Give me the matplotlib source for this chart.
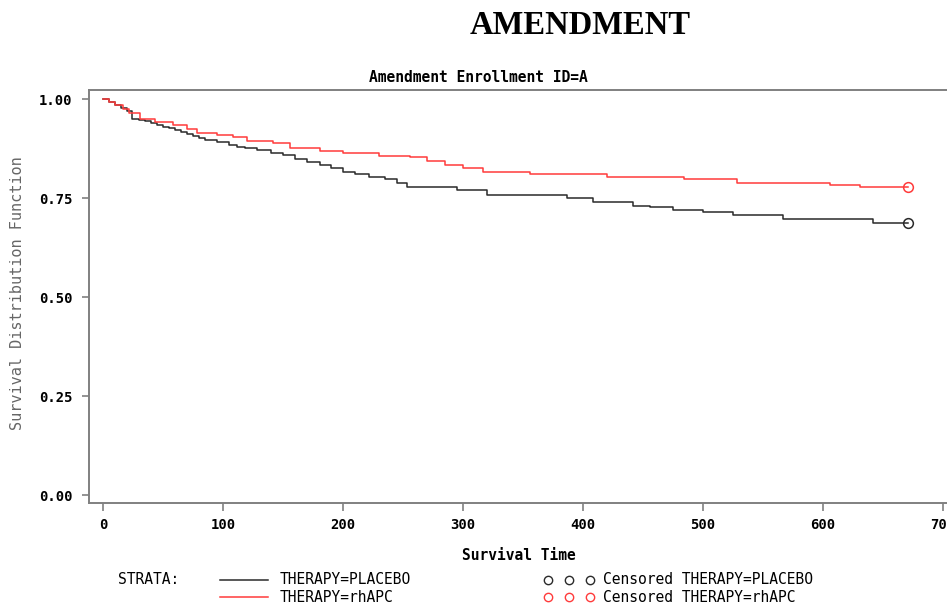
import matplotlib.pyplot as plt
from matplotlib.lines import Line2D

# Kaplan-Meier step points (time, survival)
placebo_t = [0, 5, 10, 15, 20, 24, 30, 35, 40, 45, 50, 55, 60, 65, 70, 75, 80,
             85, 95, 105, 112, 118, 128, 140, 150, 160, 170, 181, 190, 200,
             210, 222, 235, 245, 253, 295, 320, 387, 408, 442, 456, 475, 500,
             525, 567, 642]
placebo_s = [1.000, 0.993, 0.985, 0.978, 0.970, 0.951, 0.948, 0.945, 0.940,
             0.935, 0.931, 0.927, 0.922, 0.918, 0.913, 0.908, 0.903, 0.898,
             0.892, 0.885, 0.881, 0.878, 0.872, 0.866, 0.860, 0.850, 0.843,
             0.834, 0.826, 0.817, 0.812, 0.805, 0.800, 0.790, 0.779, 0.771,
             0.758, 0.751, 0.741, 0.731, 0.728, 0.720, 0.716, 0.708, 0.698,
             0.688]

rhapc_t = [0, 5, 10, 17, 22, 31, 43, 58, 70, 78, 95, 108, 120, 142, 156, 181,
           200, 230, 256, 270, 285, 300, 317, 356, 420, 484, 528, 606, 631]
rhapc_s = [1.000, 0.993, 0.986, 0.975, 0.965, 0.951, 0.943, 0.935, 0.925,
           0.915, 0.910, 0.905, 0.895, 0.890, 0.877, 0.870, 0.864, 0.858,
           0.855, 0.845, 0.835, 0.827, 0.817, 0.812, 0.805, 0.798, 0.790,
           0.784, 0.779]

last_followup = 671  # censored at end for both groups

x_ticks = [0, 100, 200, 300, 400, 500, 600, 700]
y_ticks = [0.00, 0.25, 0.50, 0.75, 1.00]

RED = '#ff3b3b'
DARK = '#2a2a2a'
MONO = 'DejaVu Sans Mono'


def main():
    W, H = 947, 607
    fig = plt.figure(figsize=(W / 100, H / 100), dpi=100)

    ax = fig.add_axes([89 / W, 1 - 503 / H, 866 / W, 413 / H])
    ax.set_xlim(-11.7, 710)
    ax.set_ylim(-0.02, 1.024)

    ax.step(placebo_t + [last_followup], placebo_s + [placebo_s[-1]],
            where='post', color=DARK, lw=1.1)
    ax.step(rhapc_t + [last_followup], rhapc_s + [rhapc_s[-1]],
            where='post', color=RED, lw=1.1)
    ax.plot([last_followup], [placebo_s[-1]], 'o', ms=7, mfc='none',
            mec=DARK, mew=1.1)
    ax.plot([last_followup], [rhapc_s[-1]], 'o', ms=7, mfc='none',
            mec=RED, mew=1.1)

    for s in ax.spines.values():
        s.set_color('#808080')
        s.set_linewidth(1.4)

    ax.set_xticks(x_ticks)
    ax.set_yticks(y_ticks)
    ax.set_xticklabels([str(v) for v in x_ticks])
    ax.set_yticklabels([f'{v:.2f}' for v in y_ticks])
    ax.tick_params(axis='both', direction='out', color='#808080', width=1.2,
                   labelsize=10, labelcolor='black')
    ax.tick_params(axis='x', length=6, pad=5)
    ax.tick_params(axis='y', length=5, pad=7)
    for lab in ax.get_xticklabels() + ax.get_yticklabels():
        lab.set_family(MONO)
        lab.set_fontweight('bold')

    # titles
    fig.text(580 / W, 1 - 25 / H, 'AMENDMENT', ha='center', va='center',
             family='Liberation Serif', fontweight='bold', fontsize=23.5)
    fig.text(478 / W, 1 - 78 / H, 'Amendment Enrollment ID=A', ha='center',
             va='center', family=MONO, fontsize=10.5, fontweight='bold')

    # axis labels
    fig.text(519 / W, 1 - 555 / H, 'Survival Time', ha='center', va='center',
             family=MONO, fontsize=10.5, fontweight='bold')
    fig.text(18 / W, 1 - 293 / H, 'Survival Distribution Function',
             ha='center', va='center', rotation=90, family=MONO,
             fontsize=11, color='#666666')

    # legend
    y1, y2 = 1 - 580 / H, 1 - 597 / H
    fig.text(118 / W, y1, 'STRATA:', ha='left', va='center', family=MONO,
             fontsize=10.5)
    fig.add_artist(Line2D([220 / W, 268 / W], [y1, y1], color=DARK, lw=1.1))
    fig.add_artist(Line2D([220 / W, 268 / W], [y2, y2], color=RED, lw=1.1))
    fig.text(280 / W, y1, 'THERAPY=PLACEBO', ha='left', va='center',
             family=MONO, fontsize=10.5)
    fig.text(280 / W, y2, 'THERAPY=rhAPC', ha='left', va='center',
             family=MONO, fontsize=10.5)

    cx = [548 / W, 569 / W, 590 / W]
    fig.add_artist(Line2D(cx, [y1] * 3, ls='none', marker='o', ms=6,
                          mfc='none', mec=DARK, mew=1.0))
    fig.add_artist(Line2D(cx, [y2] * 3, ls='none', marker='o', ms=6,
                          mfc='none', mec=RED, mew=1.0))
    fig.text(603 / W, y1, 'Censored THERAPY=PLACEBO', ha='left', va='center',
             family=MONO, fontsize=10.5)
    fig.text(603 / W, y2, 'Censored THERAPY=rhAPC', ha='left', va='center',
             family=MONO, fontsize=10.5)

    fig.savefig('out.png', dpi=100)


if __name__ == '__main__':
    main()
